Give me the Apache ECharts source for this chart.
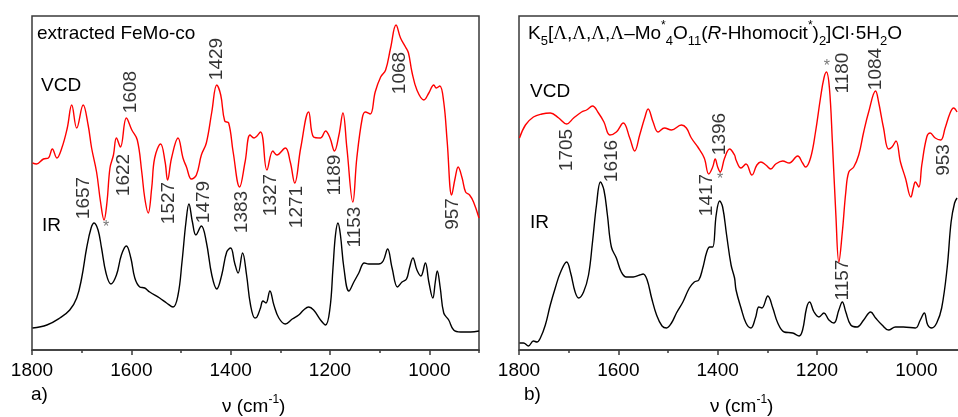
<!DOCTYPE html>
<html>
<head>
<meta charset="utf-8">
<script src="https://cdn.jsdelivr.net/npm/echarts@6/dist/echarts.min.js"></script>
<style>
  body { margin: 0; background: #fff; }
  #main { width: 958px; height: 417px; }
</style>
</head>
<body>
<div id="main"></div>
<script>
// wavenumber (cm-1), intensity (arb. units, 0 = bottom axis)
var vcdA = [[1799,187],[1791,186],[1777,191],[1767,192],[1759,201],[1750,192],[1740,202],[1729,222],[1720,245],[1710,222],[1697,245],[1687,225],[1680,202],[1670,178],[1662,148],[1655,130],[1649,148],[1643,182],[1636,195],[1630,212],[1622,203],[1610,232],[1599,220],[1588,210],[1579,178],[1573,152],[1566,137],[1559,162],[1553,192],[1541,206],[1532,188],[1527,170],[1519,192],[1506,212],[1496,192],[1489,183],[1479,171],[1469,175],[1459,195],[1449,207],[1438,238],[1428,265],[1420,255],[1412,229],[1404,227],[1395,198],[1382,163],[1371,188],[1361,215],[1353,212],[1340,218],[1327,180],[1315,199],[1307,195],[1290,202],[1280,188],[1271,167],[1259,202],[1243,238],[1233,213],[1219,212],[1209,219],[1200,212],[1191,199],[1182,215],[1174,237],[1166,202],[1154,148],[1146,192],[1135,232],[1129,238],[1119,236],[1109,258],[1098,273],[1088,280],[1078,302],[1067,325],[1058,312],[1048,303],[1042,297],[1035,278],[1025,260],[1011,250],[1001,257],[991,265],[986,262],[979,264],[971,248],[964,208],[955,155],[948,172],[942,183],[934,172],[927,158],[919,155],[911,148],[900,132]];
var irA = [[1799,22],[1770,25],[1744,32],[1724,40],[1710,52],[1700,72],[1690,102],[1681,122],[1675,127],[1667,120],[1660,102],[1651,77],[1641,66],[1630,75],[1620,95],[1610,104],[1601,92],[1593,72],[1583,63],[1573,62],[1563,58],[1543,52],[1529,47],[1516,43],[1506,55],[1498,88],[1490,128],[1484,146],[1477,128],[1470,115],[1459,124],[1449,108],[1438,75],[1428,61],[1418,75],[1408,98],[1400,102],[1392,87],[1385,77],[1376,97],[1368,75],[1360,45],[1351,32],[1347,33],[1340,42],[1335,49],[1329,47],[1321,59],[1313,45],[1303,32],[1290,26],[1276,31],[1263,35],[1253,40],[1243,43],[1233,40],[1219,30],[1209,25],[1200,42],[1194,82],[1189,115],[1184,127],[1179,115],[1172,82],[1162,59],[1152,68],[1142,77],[1131,87],[1122,86],[1112,86],[1102,86],[1093,89],[1084,101],[1075,82],[1064,63],[1055,68],[1046,71],[1040,82],[1033,92],[1025,80],[1017,74],[1008,87],[1001,68],[993,52],[988,68],[984,79],[978,62],[971,37],[961,30],[951,20],[937,18],[917,18],[900,19]];
var vcdB = [[1799,212],[1787,225],[1771,233],[1754,236],[1737,237],[1720,232],[1704,226],[1690,232],[1674,238],[1664,240],[1652,244],[1640,237],[1629,228],[1617,215],[1604,218],[1590,227],[1577,212],[1567,199],[1557,215],[1547,232],[1540,241],[1530,228],[1520,218],[1507,222],[1493,220],[1473,225],[1463,222],[1453,212],[1440,203],[1427,192],[1418,176],[1410,183],[1405,191],[1400,183],[1395,178],[1386,192],[1376,201],[1366,195],[1363,190],[1353,182],[1343,186],[1331,175],[1321,185],[1313,188],[1303,185],[1293,181],[1283,186],[1269,189],[1256,187],[1239,194],[1229,187],[1223,183],[1213,192],[1203,218],[1193,252],[1186,272],[1181,278],[1175,262],[1169,208],[1162,135],[1156,88],[1149,118],[1142,158],[1136,178],[1126,183],[1116,195],[1106,218],[1096,238],[1082,259],[1076,248],[1066,222],[1056,201],[1049,203],[1041,209],[1032,188],[1022,172],[1011,153],[1006,162],[1002,168],[995,163],[989,185],[979,213],[972,217],[962,212],[951,210],[942,222],[932,237],[925,242],[918,238]];
var irB = [[1799,7],[1791,7],[1781,4],[1771,9],[1764,8],[1757,12],[1747,25],[1737,45],[1727,62],[1717,77],[1704,88],[1696,77],[1687,58],[1680,52],[1670,58],[1660,75],[1652,108],[1644,145],[1636,168],[1629,160],[1622,135],[1614,103],[1604,92],[1594,78],[1584,73],[1570,73],[1557,75],[1550,76],[1542,70],[1533,52],[1523,35],[1512,24],[1503,22],[1493,27],[1483,37],[1470,48],[1457,62],[1447,68],[1438,70],[1430,82],[1422,98],[1416,103],[1410,103],[1403,135],[1396,149],[1390,143],[1382,115],[1373,85],[1366,72],[1363,60],[1353,42],[1343,27],[1333,22],[1324,32],[1317,43],[1311,42],[1299,54],[1289,42],[1279,27],[1266,18],[1249,17],[1236,14],[1229,20],[1221,42],[1215,48],[1206,38],[1196,33],[1186,37],[1176,30],[1166,27],[1156,40],[1149,48],[1142,38],[1132,25],[1119,23],[1106,30],[1092,38],[1082,32],[1069,25],[1056,20],[1042,23],[1026,23],[1002,22],[992,30],[984,37],[977,25],[969,22],[959,27],[949,42],[938,82],[930,128],[923,147],[918,152]];

// peak annotations: [wavenumber, height, text]
var peaksA = [[1695,152,'1657'],[1615,175,'1622'],[1602,258,'1608'],[1524,147,'1527'],[1455,148,'1479'],[1428,291,'1429'],[1378,138,'1383'],[1320,155,'1327'],[1266,143,'1271'],[1191,175,'1189'],[1150,123,'1153'],[1060,277,'1068'],[952,136,'957']];
var peaksB = [[1703,200,'1705'],[1613,189,'1616'],[1421,155,'1417'],[1396,216,'1396'],[1149,277,'1180'],[1082,281,'1084'],[1149,70,'1157'],[944,190,'953']];
var starsA = [[1651,122,'*']];
var starsB = [[1395,170,'*'],[1180,283,'*']];

var FONT = '"Liberation Sans", Arial, sans-serif';
var AX = '#3a3a3a';
var chart = echarts.init(document.getElementById('main'));

function majorAxis(g) {
  return {
    gridIndex: g, type: 'value', inverse: true, position: 'bottom', min: 900, max: 1800,
    minInterval: 200, maxInterval: 200,
    axisLine: { lineStyle: { color: AX, width: 1.5 } },
    axisTick: { length: 5, lineStyle: { color: AX, width: 1.5 } },
    axisLabel: {
      fontSize: 19, color: '#000', margin: 11, fontFamily: FONT, showMinLabel: false,
      formatter: function (v) { return v % 200 === 0 ? String(v) : ''; }
    },
    splitLine: { show: false }
  };
}
function minorAxis(g) {
  return {
    gridIndex: g, type: 'value', inverse: true, position: 'bottom', min: 900, max: 1800, interval: 200,
    axisLine: { show: false },
    axisTick: { length: 3, lineStyle: { color: AX, width: 1.5 } },
    axisLabel: { show: false },
    splitLine: { show: false }
  };
}
function yAx(g) {
  return { gridIndex: g, type: 'value', min: 0, max: 334, show: false };
}
function curve(data, color, g) {
  return {
    type: 'line', data: data, xAxisIndex: g * 2, yAxisIndex: g,
    showSymbol: false, smooth: 0.4, silent: true,
    lineStyle: { color: color, width: 1.4 }
  };
}
function notes(data, g, color, size) {
  return {
    type: 'scatter', data: data, xAxisIndex: g * 2, yAxisIndex: g,
    symbolSize: 1, itemStyle: { color: 'rgba(0,0,0,0)' }, silent: true,
    label: {
      show: true, position: 'inside', rotate: color ? 0 : 90,
      formatter: function (p) { return p.value[2]; },
      fontSize: size, color: color || '#000', fontFamily: FONT
    }
  };
}
function txt(x, y, s, size) {
  return { type: 'text', x: x, y: y, silent: true,
    style: { text: s, fill: '#000', font: size + 'px ' + FONT, textVerticalAlign: 'middle' } };
}
function richTxt(x, y, s, rich) {
  return { type: 'text', x: x, y: y, silent: true,
    style: { text: s, fill: '#000', font: '19px ' + FONT, textVerticalAlign: 'middle', rich: rich } };
}

var base = { fontSize: 19, fontFamily: FONT, lineHeight: 28, color: '#000' };
var richTitle = {
  m: base,
  L: { fontSize: 19, fontFamily: '"Liberation Serif", serif', lineHeight: 28, color: '#000' },
  i: { fontSize: 19, fontFamily: FONT, fontStyle: 'italic', lineHeight: 28, color: '#000' },
  b: { fontSize: 13, fontFamily: FONT, lineHeight: 13, verticalAlign: 'bottom', color: '#000' },
  p: { fontSize: 12, fontFamily: FONT, lineHeight: 20, verticalAlign: 'top', color: '#000' }
};
var richAxis = {
  m: { fontSize: 19, fontFamily: FONT, lineHeight: 26, color: '#000' },
  p: { fontSize: 12, fontFamily: FONT, lineHeight: 18, verticalAlign: 'top', color: '#000' }
};

chart.setOption({
  animation: false,
  backgroundColor: '#fff',
  grid: [
    { left: 32, top: 16, width: 447, height: 334, show: true, borderColor: AX, borderWidth: 1.5, outerBoundsMode: 'none' },
    { left: 519, top: 16, width: 447, height: 334, show: true, borderColor: AX, borderWidth: 1.5, outerBoundsMode: 'none' }
  ],
  xAxis: [majorAxis(0), minorAxis(0), majorAxis(1), minorAxis(1)],
  yAxis: [yAx(0), yAx(1)],
  series: [
    curve(vcdA, '#ff0000', 0), curve(irA, '#000', 0),
    curve(vcdB, '#ff0000', 1), curve(irB, '#000', 1),
    notes(peaksA, 0, null, 19), notes(peaksB, 1, null, 19),
    notes(starsA, 0, '#555', 16), notes(starsB, 1, '#555', 16)
  ],
  graphic: [
    txt(37, 34, 'extracted FeMo-co', 19),
    txt(41, 86, 'VCD', 19),
    txt(42, 226, 'IR', 19),
    txt(530, 92, 'VCD', 19),
    txt(530, 223, 'IR', 19),
    txt(31, 395, 'a)', 19),
    txt(524, 395, 'b)', 19),
    richTxt(528, 34, '{m|K}{b|5}{m|[}{L|Λ}{m|,}{L|Λ}{m|,}{L|Λ}{m|,}{L|Λ}{m|–Mo}{p|*}{b|4}{m|O}{b|11}{m|(}{i|R}{m|-Hhomocit}{p|*}{m|)}{b|2}{m|]Cl·5H}{b|2}{m|O}', richTitle),
    richTxt(222, 407, '{m|ν (cm}{p|-1}{m|)}', richAxis),
    richTxt(710, 407, '{m|ν (cm}{p|-1}{m|)}', richAxis)
  ]
});
</script>
</body>
</html>
